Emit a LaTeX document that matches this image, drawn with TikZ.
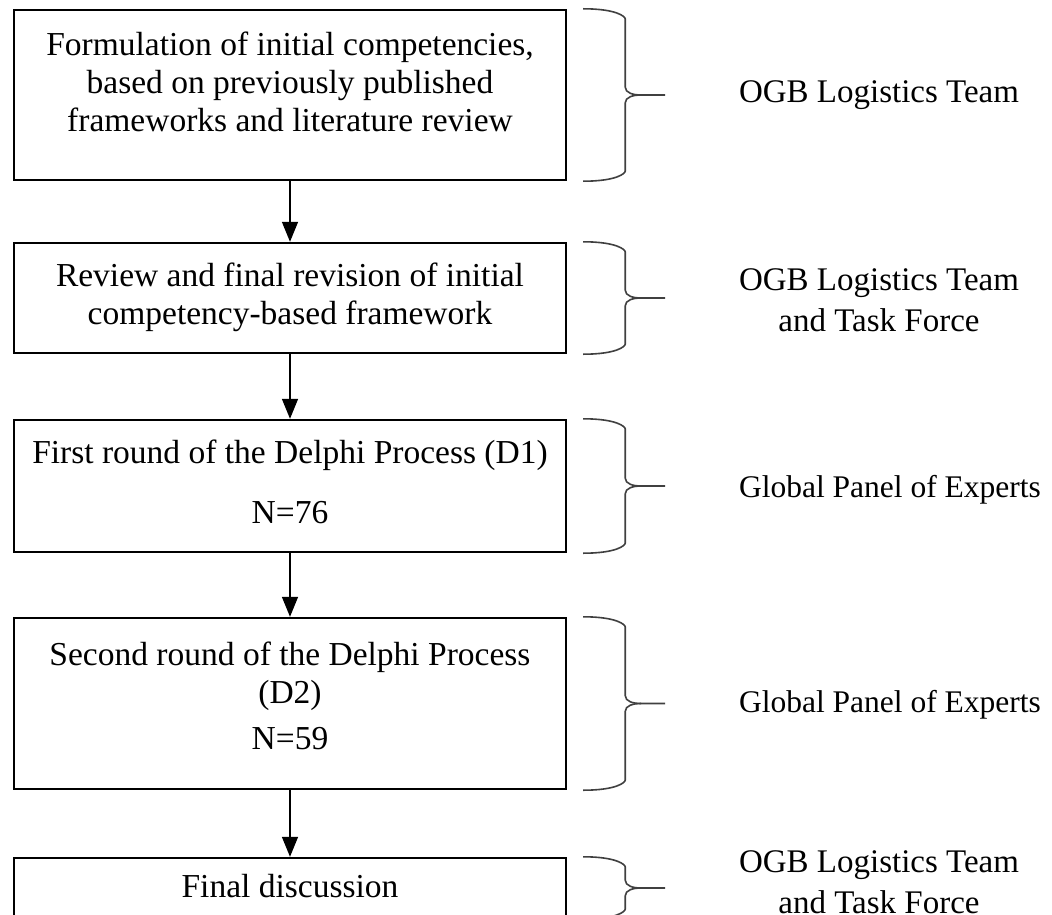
\documentclass[tikz,border=0pt]{standalone}
\usepackage{fontspec}
\setmainfont{Liberation Serif}
\usetikzlibrary{positioning, arrows.meta, calc}

\tikzset{
  stepbox/.style={draw, line width=2.4pt, rectangle, minimum width=552, inner sep=0pt},
  steptext/.style={align=center, font=\fontsize{33.5}{38}\selectfont},
  who/.style={align=center, font=\fontsize{33}{41}\selectfont},
  panel/.style={align=center, font=\fontsize{31.5}{38}\selectfont},
  flow/.style={line width=1.5pt, -{Triangle[length=20pt,width=16pt]}},
  bracket/.style={line width=1.6pt, draw=black!75},
}

% curly bracket to the right of a box
\newcommand{\sidebrace}[1]{%
  \draw[bracket] ($(#1.north east)+(16,0)$) .. controls +(34,0) and +(0,2) .. ($(#1.north east)+(58,-10)$)
    -- ($(#1.east)+(58,8)$) .. controls +(0,-6) and +(-8,0) .. ($(#1.east)+(74,0)$) -- ($(#1.east)+(98,0)$);
  \draw[bracket] ($(#1.south east)+(16,0)$) .. controls +(34,0) and +(0,-2) .. ($(#1.south east)+(58,10)$)
    -- ($(#1.east)+(58,-8)$) .. controls +(0,6) and +(-8,0) .. ($(#1.east)+(74,0)$);
}

\begin{document}
\begin{tikzpicture}[x=1pt, y=1pt]
  \fill[white] (0,0) rectangle (1052,-915);
  \useasboundingbox (0,0) rectangle (1052,-915);

  % boxes
  \node[stepbox, minimum height=170] (b1) at (290,-95) {};
  \node[stepbox, minimum height=110] (b2) at (290,-298) {};
  \node[stepbox, minimum height=132] (b3) at (290,-486) {};
  \node[stepbox, minimum height=171] (b4) at (290,-703.5) {};
  \node[stepbox, minimum height=60] (b5) at (290,-888) {};

  % box texts
  \node[steptext] (t1) at (290,-82) {Formulation of initial competencies,\\based on previously published\\frameworks and literature review};
  \node[steptext] (t2) at (290,-297) {Review and final revision of initial\\competency-based framework};
  \node[steptext] (t3) at (290,-482) {First round of the Delphi Process (D1)\\[22pt]N=76};
  \node[steptext] (t4) at (290,-696) {Second round of the Delphi Process\\(D2)\\[8pt]N=59};
  \node[steptext] (t5) at (290,-886) {Final discussion};

  % arrows
  \draw[flow] (b1) -- (b2);
  \draw[flow] (b2) -- (b3);
  \draw[flow] (b3) -- (b4);
  \draw[flow] (b4) -- (b5);

  % brackets
  \foreach \b in {b1,b2,b3,b4,b5}
    \sidebrace{\b};

  % who
  \node[who] (w1) at (879,-95) {OGB Logistics Team};
  \node[who] (w2) at (879,-300) {OGB Logistics Team\\and Task Force};
  \node[panel] (w3) at (890,-490) {Global Panel of Experts};
  \node[panel] (w4) at (890,-705) {Global Panel of Experts};
  \node[who] (w5) at (879,-882) {OGB Logistics Team\\and Task Force};
\end{tikzpicture}
\end{document}
